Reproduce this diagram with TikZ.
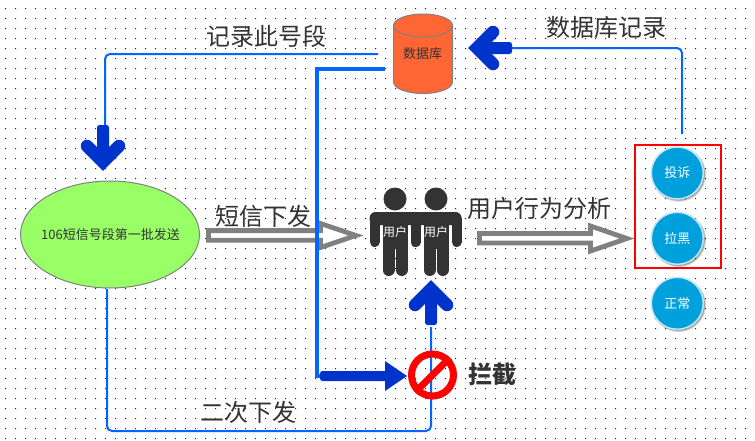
\documentclass[tikz,border=0pt]{standalone}
\usepackage{fontspec}
\setmainfont{Noto Sans CJK SC}
\definecolor{wire}{HTML}{0066FF}
\definecolor{fat}{HTML}{0033CC}
\definecolor{ink}{HTML}{333333}
\definecolor{edge}{HTML}{808080}
\definecolor{ball}{HTML}{00A0DC}
\definecolor{lime}{HTML}{99FF66}
\definecolor{barrel}{HTML}{FF6633}
\tikzset{
  big/.style={font=\fontsize{24}{24}\selectfont,text=ink,inner sep=0pt},
  small/.style={font=\fontsize{13}{13}\selectfont,text=ink,inner sep=0pt},
  thinwire/.style={draw=wire,line width=2pt,rounded corners=5pt},
  thickwire/.style={draw=wire,line width=4pt},
  hollow/.style={draw=edge,fill=white,line width=4.8pt,miter limit=10},
  ballnode/.style={circle,fill=ball,draw=ball!25!white,line width=1.5pt,minimum size=52pt,inner sep=0pt,text=white,font=\fontsize{13}{13}\selectfont},
  fatarrow/.pic={
    \fill[fat,rounded corners=2.5pt] (-#1,-6) rectangle (-9,6);
    \draw[fat,line width=12.5pt,line cap=round,miter limit=10] (-25,-16) -- (-9,0) -- (-25,16);
  },
  person/.pic={
    \fill[ink] (0,0) circle (11.5);
    \fill[ink,rounded corners=6pt] (-25.5,13) rectangle (25.5,26);
    \fill[ink] (-12.5,16) rectangle (12.5,50);
    \draw[ink,line width=10pt,line cap=round] (-20.5,20) -- (-20.5,43);
    \draw[ink,line width=10pt,line cap=round] (20.5,20) -- (20.5,43);
    \draw[ink,line width=12pt,line cap=round] (-6.5,46) -- (-6.5,71);
    \draw[ink,line width=12pt,line cap=round] (6.5,46) -- (6.5,71);
  },
}
\begin{document}
\begin{tikzpicture}[x=1pt,y=-1pt]
\useasboundingbox (0,0) rectangle (755,440);
\fill[white] (0,0) rectangle (755,440);
% dotted page grid
\fill[blue] foreach \i in {0,...,75} { foreach \j in {0,...,43} { ({5+10*\i},{8+10*\j}) rectangle +(1,1) } };

% hollow arrows
\draw[hollow] (208.5,230.6) -- (320.5,230.6) -- (320.5,223.5) -- (356,235.5) -- (320.5,247.5) -- (320.5,240.2) -- (208.5,240.2) -- cycle;
\draw[hollow] (479.5,233.5) -- (590.5,233.5) -- (590.5,226) -- (627,238.5) -- (590.5,251) -- (590.5,243) -- (479.5,243) -- cycle;

% shapes
\draw[fill=lime,draw=edge,line width=1pt] (110,234.5) ellipse [x radius=89.5,y radius=53.5];
\node[small] (sms) at (110.5,235) {106短信号段第一批发送};

\path[fill=barrel,draw=edge,line width=1pt]
  (393.5,25.5) arc [start angle=180,end angle=360,x radius=29.5,y radius=11.5]
  -- (452.5,82) arc [start angle=0,end angle=180,x radius=29.5,y radius=11.5] -- cycle;
\draw[edge,line width=1pt] (393.5,25.5) arc [start angle=180,end angle=0,x radius=29.5,y radius=11.5];
\node[small] (db) at (422.5,54) {数据库};

\pic at (395,199) {person};
\pic at (436,199) {person};
\node[small,text=white,font=\fontsize{12}{12}\selectfont] (user1) at (395,232) {用户};
\node[small,text=white,font=\fontsize{12}{12}\selectfont] (user2) at (436,232) {用户};

% result balls
\draw[red,line width=2pt] (635,145) rectangle (721,268);
\foreach \cy in {173,238.3,303.3} {
  \fill[black,opacity=.15] (678.8,\cy+1.5) circle (27.3);
  \fill[black,opacity=.25] (678.5,\cy+1.2) circle (26.5);
}
\node[ballnode] (complain) at (677.3,173) {投诉};
\node[ballnode] (block) at (677.3,238.3) {拉黑};
\node[ballnode] (normal) at (677.3,303.3) {正常};

% connector end points
\coordinate (recA) at (378,54);
\coordinate (recB) at (105,125);
\coordinate (thkA) at (385,69);
\coordinate (thkB) at (322,376);
\coordinate (logA) at (682,134);
\coordinate (logB) at (512,48);
\coordinate (secA) at (107,289);
\coordinate (secB) at (431,327);

% connectors
\draw[thinwire] (recA) -- (recA -| recB) -- (recB);
\draw[thickwire] (thkA) -- (317,69) -- (317,376) -- (thkB);
\draw[thinwire] (logA) -- (logA |- logB) -- (logB);
\draw[thinwire] (secA) -- (secA |- 0,431) -- (secB |- 0,431) -- (secB);

% fat arrows
\pic[rotate=-90] at (103,171) {fatarrow=46};
\pic[rotate=180] at (468,48) {fatarrow=44};
\pic[rotate=90] at (431,280) {fatarrow=45};
\fill[fat,rounded corners=2.5pt] (320,371) rectangle (387,381);
\fill[fat] (385,361) -- (407,376) -- (385,391) -- cycle;

% prohibition sign
\node[circle,draw=red,line width=7pt,minimum size=42pt,inner sep=0pt] (stop) at (432.5,375) {};
\draw[red,line width=7pt] (stop.south west) -- (stop.north east);

% labels
\node[big] (l1) at (266,36) {记录此号段};
\node[big] (l2) at (606,27) {数据库记录};
\node[big] (l3) at (263,216) {短信下发};
\node[big] (l4) at (539,208) {用户行为分析};
\node[big] (l5) at (248,412) {二次下发};
\node[big,font=\fontsize{24}{24}\selectfont\bfseries] (l6) at (492,374) {拦截};
\end{tikzpicture}
\end{document}
